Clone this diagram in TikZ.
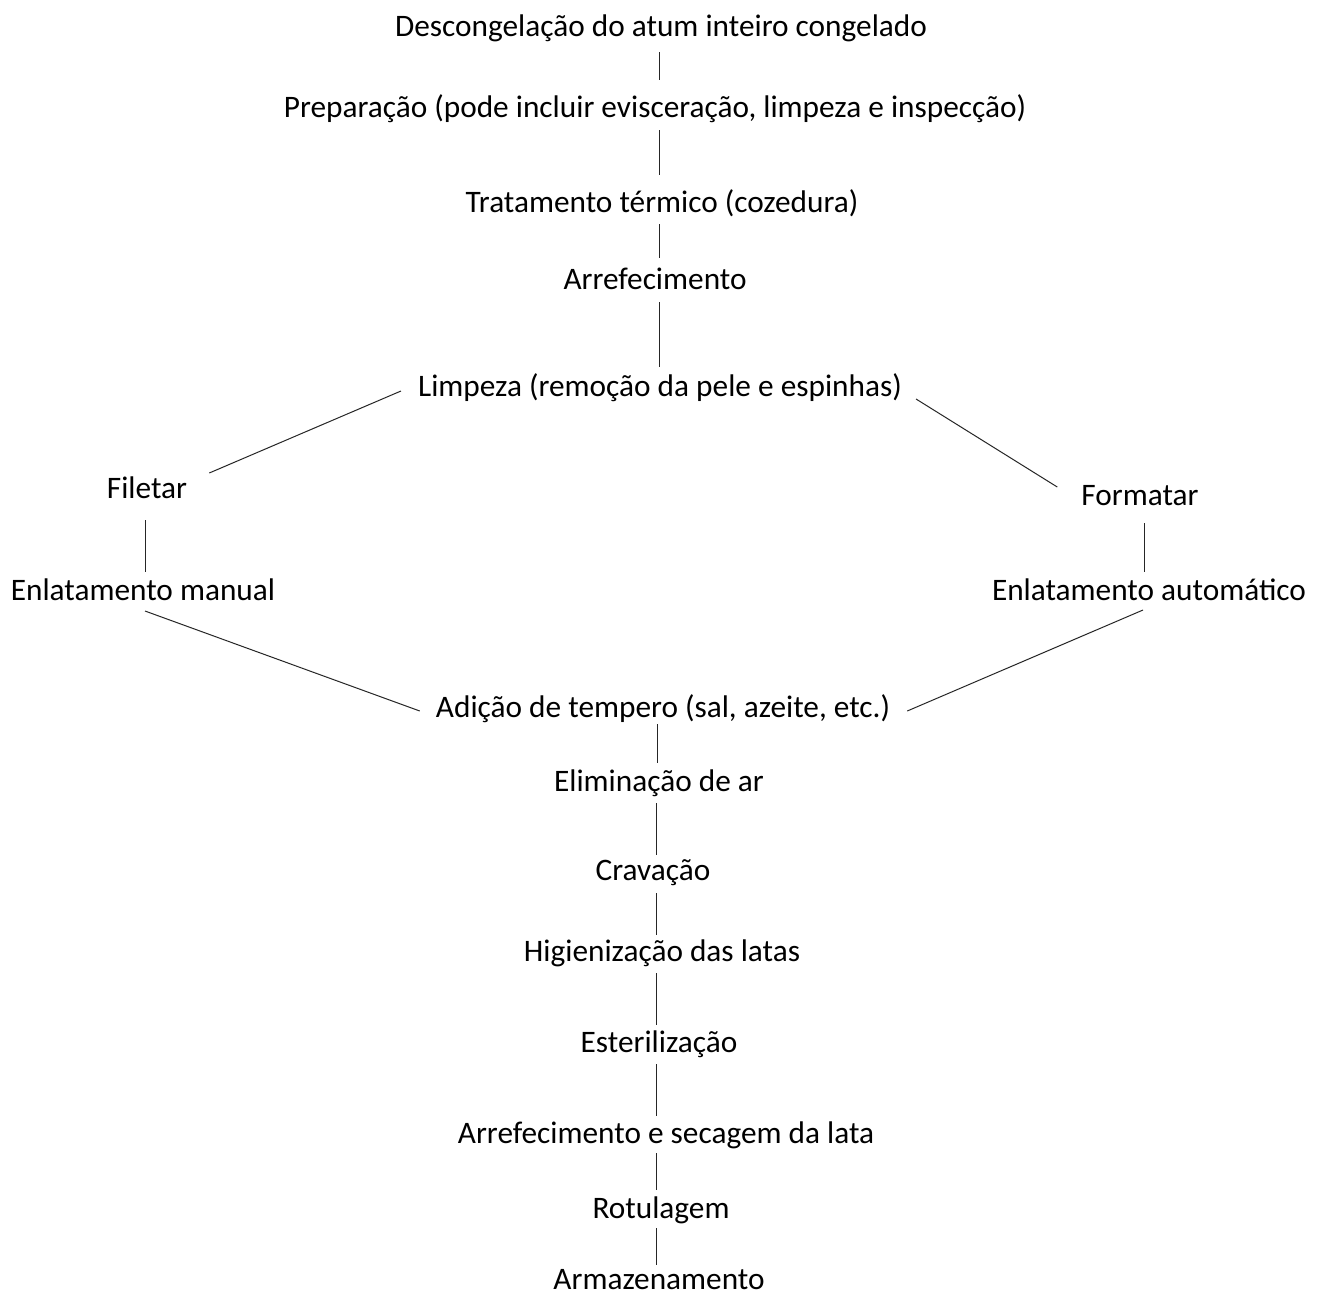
\documentclass[tikz,border=0pt]{standalone}
\usepackage{fontspec}
\setmainfont{Carlito}
\usetikzlibrary{calc}
\begin{document}
\begin{tikzpicture}[x=1pt,y=-1pt,
  lbl/.style={font=\fontsize{31.3}{37}\selectfont, inner sep=0pt, anchor=base, text=black},
  conn/.style={draw=black!85, line width=1pt}]
\useasboundingbox[fill=white] (0,0) rectangle (1322,1296);
% spine coordinates
\coordinate (spA) at (659,0);
\coordinate (spB) at (657,0);
\coordinate (spC) at (656,0);
\coordinate (spF) at (145,0);
\coordinate (spR) at (1144,0);
% nodes
\node[lbl] (n1)  at (661,36)   {Descongelação do atum inteiro congelado};
\node[lbl] (n2)  at (655,117)  {Preparação (pode incluir evisceração, limpeza e inspecção)};
\node[lbl] (n3)  at (662,212)  {Tratamento térmico (cozedura)};
\node[lbl] (n4)  at (655,289)  {Arrefecimento};
\node[lbl] (lim) at (660,396)  {Limpeza (remoção da pele e espinhas)};
\node[lbl] (fil) at (147,498)  {Filetar};
\node[lbl] (for) at (1140,505) {Formatar};
\node[lbl] (em)  at (143,600)  {Enlatamento manual};
\node[lbl] (ea)  at (1149,600) {Enlatamento automático};
\node[lbl] (adi) at (663,717)  {Adição de tempero (sal, azeite, etc.)};
\node[lbl] (eli) at (659,791)  {Eliminação de ar};
\node[lbl] (cra) at (653,880)  {Cravação};
\node[lbl] (hig) at (662,961)  {Higienização das latas};
\node[lbl] (est) at (659,1052) {Esterilização};
\node[lbl] (arr) at (666,1143) {Arrefecimento e secagem da lata};
\node[lbl] (rot) at (661,1218) {Rotulagem};
\node[lbl] (arm) at (659,1289) {Armazenamento};
% vertical connectors
\draw[conn] ($(n1.base -| spA)+(0,16)$) -- ($(n2.base -| spA)+(0,-37)$);
\draw[conn] ($(n2.base -| spA)+(0,13)$) -- ($(n3.base -| spA)+(0,-37)$);
\draw[conn] ($(n3.base -| spA)+(0,12)$) -- ($(n4.base -| spA)+(0,-31)$);
\draw[conn] ($(n4.base -| spA)+(0,13)$) -- ($(lim.base -| spA)+(0,-29)$);
\draw[conn] ($(fil.base -| spF)+(0,22)$) -- ($(em.base -| spF)+(0,-28)$);
\draw[conn] ($(for.base -| spR)+(0,18)$) -- ($(ea.base -| spR)+(0,-28)$);
\draw[conn] ($(adi.base -| spB)+(0,7)$) -- ($(eli.base -| spB)+(0,-28)$);
\draw[conn] ($(eli.base -| spC)+(0,12)$) -- ($(cra.base -| spC)+(0,-25)$);
\draw[conn] ($(cra.base -| spC)+(0,13)$) -- ($(hig.base -| spC)+(0,-26)$);
\draw[conn] ($(hig.base -| spC)+(0,12)$) -- ($(est.base -| spC)+(0,-27)$);
\draw[conn] ($(est.base -| spC)+(0,12)$) -- ($(arr.base -| spC)+(0,-27)$);
\draw[conn] ($(arr.base -| spC)+(0,10)$) -- ($(rot.base -| spC)+(0,-28)$);
\draw[conn] ($(rot.base -| spC)+(0,10)$) -- ($(arm.base -| spC)+(0,-24)$);
% diagonal connectors
\draw[conn] ($(lim.base west)+(-17,-5)$) -- ($(fil.base east)+(22,-25)$);
\draw[conn] ($(lim.base east)+(14,3)$) -- ($(for.base west)+(-24,-18)$);
\draw[conn] ($(em.base)+(2,11)$) -- ($(adi.base west)+(-16,-6)$);
\draw[conn] ($(ea.base)+(-6,10)$) -- ($(adi.base east)+(17,-6)$);
\end{tikzpicture}
\end{document}
